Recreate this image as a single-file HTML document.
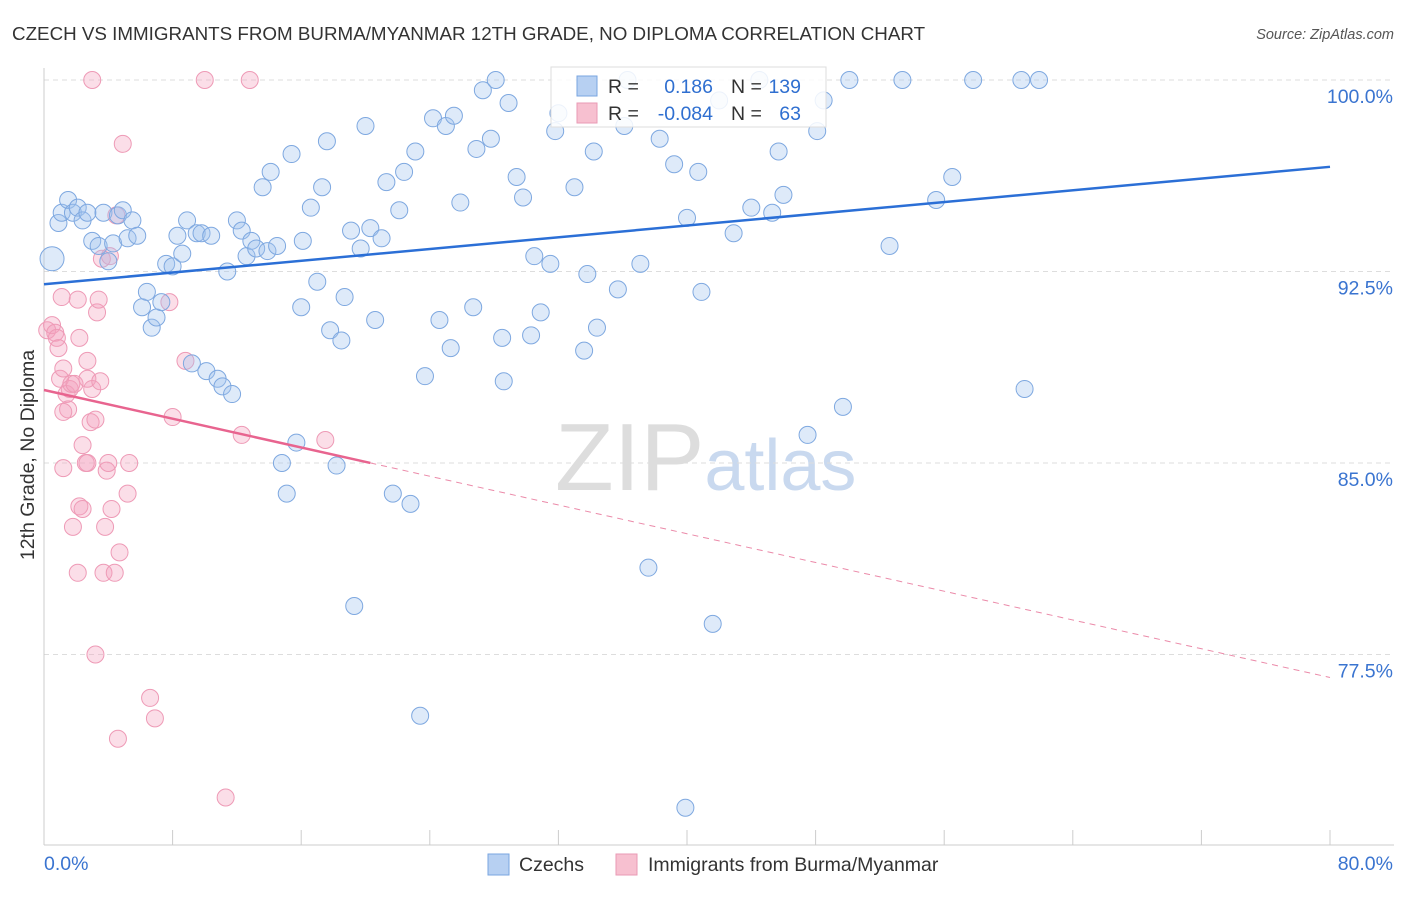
<!DOCTYPE html>
<html><head><meta charset="utf-8"><style>
body{margin:0;background:#fff;font-family:"Liberation Sans",sans-serif;}
svg text{font-family:"Liberation Sans",sans-serif;}
</style></head><body>
<svg id="chart" width="1406" height="892" viewBox="0 0 1406 892" xmlns="http://www.w3.org/2000/svg">
<text x="12" y="40" font-size="18.8" fill="#333">CZECH VS IMMIGRANTS FROM BURMA/MYANMAR 12TH GRADE, NO DIPLOMA CORRELATION CHART</text>
<text x="1394" y="39" font-size="14.5" font-style="italic" fill="#555" text-anchor="end">Source: ZipAtlas.com</text>
<text x="555" y="490" font-size="96" fill="#ddd" font-family="Liberation Serif">ZIP<tspan fill="#c9d9ef" font-family="Liberation Sans" font-size="72">atlas</tspan></text>
<g id="grid"></g>
<g id="axes"></g>
<g id="pts"></g>
<g id="lines"></g>
<text transform="translate(34,455) rotate(-90)" font-size="19.5" fill="#333" text-anchor="middle">12th Grade, No Diploma</text>
<g>
<rect x="551" y="67" width="275" height="60" fill="#fff" fill-opacity="0.85" stroke="#ddd"/>
<rect x="577" y="76" width="20" height="20" fill="#b7d0f2" stroke="#7aa6e0"/>
<rect x="577" y="103" width="20" height="20" fill="#f7c0d0" stroke="#ea9ab4"/>
<text x="608" y="93" font-size="19.5" fill="#333">R =</text><text x="713" y="93" font-size="19.5" fill="#2f6fd0" text-anchor="end">0.186</text>
<text x="731" y="93" font-size="19.5" fill="#333">N =</text><text x="801" y="93" font-size="19.5" fill="#2f6fd0" text-anchor="end">139</text>
<text x="608" y="120" font-size="19.5" fill="#333">R =</text><text x="713" y="120" font-size="19.5" fill="#2f6fd0" text-anchor="end">-0.084</text>
<text x="731" y="120" font-size="19.5" fill="#333">N =</text><text x="801" y="120" font-size="19.5" fill="#2f6fd0" text-anchor="end">63</text>
</g>
<g>
<rect x="488" y="854" width="21" height="21" fill="#b7d0f2" stroke="#7aa6e0"/>
<text x="519" y="871" font-size="19.5" fill="#333">Czechs</text>
<rect x="616" y="854" width="21" height="21" fill="#f7c0d0" stroke="#ea9ab4"/>
<text x="648" y="871" font-size="19.5" fill="#333">Immigrants from Burma/Myanmar</text>
</g>
</svg>
<script>
const blueX=[0.5,0.9,1.1,1.5,1.8,2.1,2.4,2.7,3.0,3.4,3.7,4.0,4.3,4.6,4.9,5.2,5.5,5.8,6.1,6.4,6.7,7.0,7.3,7.6,8.0,8.3,8.6,8.9,9.2,9.5,9.8,10.1,10.4,10.8,11.1,11.4,11.7,12.0,12.3,12.6,12.9,13.2,13.6,13.9,14.1,14.5,14.8,15.1,15.4,15.7,16.0,16.1,16.6,17.0,17.3,17.6,17.8,18.2,18.5,18.7,19.1,19.3,19.7,20.0,20.3,20.6,21.0,21.3,21.7,22.1,22.4,22.8,23.1,23.4,23.7,24.2,24.6,25.0,25.3,25.5,25.9,26.7,26.9,27.3,27.8,28.1,28.5,28.6,28.9,29.4,29.8,30.3,30.5,30.9,31.5,31.8,32.0,33.0,33.6,33.8,34.2,34.4,35.7,36.1,36.3,37.1,37.6,38.3,39.2,39.9,40.0,40.7,40.9,41.6,42.0,42.9,44.0,44.5,45.3,45.7,46.0,47.5,48.1,48.5,49.7,50.1,52.6,53.4,55.5,56.5,57.8,60.8,61.0,61.9];
const blueY=[93.0,94.4,94.8,95.3,94.8,95.0,94.5,94.8,93.7,93.5,94.8,92.9,93.6,94.7,94.9,93.8,94.5,93.9,91.1,91.7,90.3,90.7,91.3,92.8,92.7,93.9,93.2,94.5,88.9,94.0,94.0,88.6,93.9,88.3,88.0,92.5,87.7,94.5,94.1,93.1,93.7,93.4,95.8,93.3,96.4,93.5,85.0,83.8,97.1,85.8,91.1,93.7,95.0,92.1,95.8,97.6,90.2,84.9,89.8,91.5,94.1,79.4,93.4,98.2,94.2,90.6,93.8,96.0,83.8,94.9,96.4,83.4,97.2,75.1,88.4,98.5,90.6,98.2,89.5,98.6,95.2,91.1,97.3,99.6,97.7,100.0,89.9,88.2,99.1,96.2,95.4,90.0,93.1,90.9,92.8,98.0,98.7,95.8,89.4,92.4,97.2,90.3,91.8,98.2,100.0,92.8,80.9,97.7,96.7,71.5,94.6,96.4,91.7,78.7,99.2,94.0,95.0,100.0,94.8,97.2,95.5,86.1,98.0,99.2,87.2,100.0,93.5,100.0,95.3,96.2,100.0,100.0,87.9,100.0];
const pinkX=[0.2,0.5,0.7,0.8,1.1,1.0,1.2,1.4,1.5,1.6,1.7,1.9,2.1,2.2,2.4,2.6,2.7,2.7,2.9,3.0,3.3,3.4,1.2,1.8,2.1,2.2,2.4,2.7,3.2,3.7,3.8,3.9,4.0,4.2,4.4,4.6,4.7,4.9,5.2,5.3,6.6,6.9,7.8,8.0,8.8,10.0,11.3,12.3,12.8,17.5,3.0,3.6,4.1,4.5,0.9,1.2,3.2,3.5];
const pinkY=[90.2,90.4,90.1,89.9,91.5,88.3,88.7,87.7,87.1,87.9,88.1,88.1,91.4,89.9,85.7,85.0,89.0,88.3,86.6,87.9,90.9,91.4,84.8,82.5,80.7,83.3,83.2,85.0,77.5,80.7,82.5,84.7,85.0,83.2,80.7,74.2,81.5,97.5,83.8,85.0,75.8,75.0,91.3,86.8,89.0,100.0,71.9,86.1,100.0,85.9,100.0,93.0,93.1,94.7,89.5,87.0,86.7,88.2];
const xTicks=[0,8,16,24,32,40,48,56,64,72,80];
const yTicks=[100,92.5,85,77.5];
const yTickLabels=["100.0%","92.5%","85.0%","77.5%"];
const blueLine=[92.0,96.6];
const pinkLine=[87.86,76.6];
const pinkSolidEnd=20.3;
const NS="http://www.w3.org/2000/svg";
const X=v=>44+v/80*1286;
const Y=v=>80+(100-v)/7.5*191.5;
function mk(t,a,p){const e=document.createElementNS(NS,t);for(const k in a)e.setAttribute(k,a[k]);p.appendChild(e);return e;}
const grid=document.getElementById('grid'),axes=document.getElementById('axes'),pts=document.getElementById('pts'),lines=document.getElementById('lines');
yTicks.forEach((v,i)=>{
const l=mk('line',{x1:44,x2:1394,y1:Y(v),y2:Y(v),stroke:'#ddd','stroke-dasharray':'5,4'},grid);


const t=mk('text',{x:1393,y:Y(v)+23,'font-size':19.5,fill:'#3a74d0','text-anchor':'end'},axes);
t.textContent=yTickLabels[i];


});
const ax=mk('line',{x1:44,x2:1394,y1:845,y2:845,stroke:'#ccc'},axes);


const ay=mk('line',{x1:44,x2:44,y1:68,y2:845,stroke:'#ccc'},axes);


xTicks.forEach(v=>{
const t=mk('line',{x1:X(v),x2:X(v),y1:830,y2:845,stroke:'#ccc'},axes);


});
const xl0=mk('text',{x:44,y:870,'font-size':19.5,fill:'#3a74d0'},axes);xl0.textContent=xTicks[0].toFixed(1)+'%';


const xl1=mk('text',{x:1393,y:870,'font-size':19.5,fill:'#3a74d0','text-anchor':'end'},axes);xl1.textContent=xTicks[xTicks.length-1].toFixed(1)+'%';


pinkX.forEach((v,i)=>{
const c=mk('circle',{cx:X(v),cy:Y(pinkY[i]),r:8.5,fill:'rgba(244,160,188,0.35)',stroke:'#ee9ab6','stroke-width':1},pts);


});
blueX.forEach((v,i)=>{
const c=mk('circle',{cx:X(v),cy:Y(blueY[i]),r:i==0?12:8.5,fill:'rgba(160,194,238,0.35)',stroke:'#7ea8e0','stroke-width':1},pts);


});
const bl=mk('line',{x1:X(0),y1:Y(blueLine[0]),x2:X(80),y2:Y(blueLine[1]),stroke:'#2b6fd6','stroke-width':2.5},lines);


const py=x=>pinkLine[0]+(pinkLine[1]-pinkLine[0])*x/80;
const ps=mk('line',{x1:X(0),y1:Y(py(0)),x2:X(pinkSolidEnd),y2:Y(py(pinkSolidEnd)),stroke:'#e8648f','stroke-width':2.5},lines);


const pd=mk('line',{x1:X(pinkSolidEnd),y1:Y(py(pinkSolidEnd)),x2:X(80),y2:Y(py(80)),stroke:'#eb8aa9','stroke-width':1,'stroke-dasharray':'6,5'},lines);


</script>
</body></html>
